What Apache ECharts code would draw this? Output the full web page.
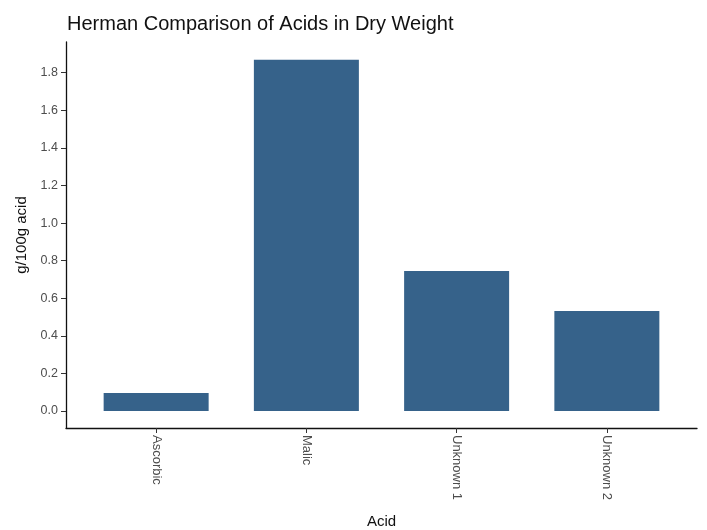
<!DOCTYPE html>
<html>
<head>
<meta charset="utf-8">
<script src="https://cdn.jsdelivr.net/npm/echarts@6/dist/echarts.min.js"></script>
<style>html,body{margin:0;padding:0;background:#fff}#c{width:707px;height:530px}</style>
</head>
<body>
<div id="c"></div>
<script>
const categories = ["Ascorbic", "Malic", "Unknown 1", "Unknown 2"];
const values = [0.096, 1.869, 0.745, 0.532];
const yTicks = [0, 0.2, 0.4, 0.6, 0.8, 1.0, 1.2, 1.4, 1.6, 1.8];
const positions = [1, 2, 3, 4];

const chart = echarts.init(document.getElementById('c'));
const font = 'Liberation Sans, Arial, sans-serif';
chart.setOption({
  animation: false,
  title: {
    text: 'Herman Comparison of Acids in Dry Weight',
    left: 62, top: 9,
    textStyle: {fontFamily: font, fontSize: 20, fontWeight: 'normal', color: '#111'}
  },
  grid: {left: 66, right: 10, top: 42, bottom: 102, outerBoundsMode: 'none', containLabel: false},
  xAxis: {
    type: 'value', min: 0.4, max: 4.6,
    name: 'Acid', nameLocation: 'middle', nameGap: 86,
    nameTextStyle: {fontFamily: font, fontSize: 15, color: '#111'},
    axisLine: {show: true, onZero: false, lineStyle: {color: '#111', width: 1.3}},
    axisTick: {show: true, length: 5, lineStyle: {color: '#333'}, customValues: positions},
    axisLabel: {
      rotate: -90, margin: 7, fontFamily: font, fontSize: 13, color: '#4d4d4d',
      customValues: positions,
      formatter: v => categories[Math.round(v) - 1] || ''
    },
    splitLine: {show: false}
  },
  yAxis: {
    type: 'value', min: -0.0905, max: 1.9635,
    name: 'g/100g acid', nameLocation: 'middle', nameGap: 36,
    nameTextStyle: {fontFamily: font, fontSize: 15, color: '#111'},
    axisLine: {show: true, onZero: false, lineStyle: {color: '#111', width: 1.3}},
    axisTick: {show: true, length: 5, lineStyle: {color: '#333'}, customValues: yTicks},
    axisLabel: {
      margin: 8, fontFamily: font, fontSize: 12.5, color: '#4d4d4d',
      customValues: yTicks,
      formatter: v => v.toFixed(1)
    },
    splitLine: {show: false}
  },
  series: [{
    type: 'bar',
    barWidth: 105,
    itemStyle: {color: '#36628a'},
    data: values.map((v, i) => [positions[i], v])
  }]
});
</script>
</body>
</html>
